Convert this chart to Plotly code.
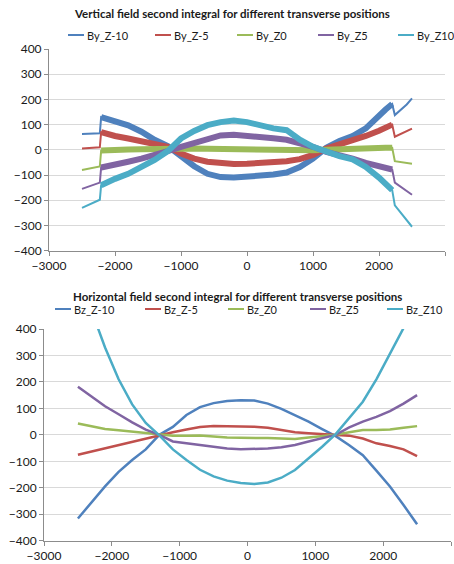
import plotly.graph_objects as go

W, H = 454, 564

# ---------------- data: vertical field (top) ----------------
x_top = [-2500, -2230, -2210, -2100, -2000, -1800, -1600, -1400, -1200, -1000, -800, -600,
         -400, -200, 0, 200, 400, 600, 800, 1000, 1200, 1400, 1600, 1800, 2000, 2100, 2200,
         2240, 2420, 2500]
by_zm10 = [63, 66, 130, 122, 110, 97, 72, 40, 15, -25, -65, -95,
           -108, -110, -107, -103, -98, -90, -68, -35, 8, 35, 55, 85, 140, 160, 182,
           138, 180, 204]
by_zm5 = [5, 10, 70, 65, 55, 45, 35, 25, 12, -15, -35, -47,
          -53, -56, -55, -52, -50, -45, -37, -20, 5, 20, 38, 55, 76, 88, 100,
          52, 75, 84]
by_z0 = [-80, -66, -3, -1, 0, 1, 2, 4, 5, 5, 5, 4,
         3, 2, 2, 0, -3, -4, -3, -2, 0, 3, 5, 7, 8, 8, 8,
         -45, -52, -55]
by_z5 = [-155, -130, -70, -65, -60, -47, -35, -22, -5, 12, 28, 45,
         57, 60, 57, 52, 46, 40, 28, 12, -8, -20, -35, -52, -64, -70, -78,
         -130, -165, -178]
by_z10 = [-230, -198, -140, -130, -115, -95, -70, -40, -5, 45, 75, 98,
          110, 116, 110, 95, 85, 78, 40, 12, -8, -25, -38, -68, -110, -135, -160,
          -220, -280, -305]

# ---------------- data: horizontal field (bottom) ----------------
x_bot = [-2500, -2300, -2100, -1900, -1700, -1500, -1300, -1100, -900, -700, -500, -300,
         -100, 100, 300, 500, 700, 900, 1100, 1300, 1500, 1700, 1900, 2100, 2300, 2500]
bz_zm10 = [-316, -255, -195, -140, -95, -55, 0, 30, 75, 105, 120, 128,
           131, 130, 118, 98, 75, 50, 22, -5, -39, -77, -135, -195, -265, -338]
bz_zm5 = [-75, -63, -50, -37, -25, -12, 0, 10, 20, 30, 33, 32,
          33, 31, 27, 18, 10, 6, 3, 0, -3, -14, -32, -42, -55, -80]
bz_z0 = [43, 32, 22, 17, 12, 6, 0, -3, -3, -2, -6, -10,
         -11, -11, -12, -14, -16, -10, -5, 0, 10, 18, 18, 20, 27, 33]
bz_z5 = [182, 145, 108, 78, 47, 20, 0, -25, -32, -38, -47, -52,
         -54, -54, -52, -47, -38, -25, -12, 0, 28, 50, 68, 90, 118, 150]
bz_z10 = [600, 470, 330, 210, 115, 45, -2, -55, -95, -132, -157, -173,
          -182, -186, -180, -162, -133, -90, -45, 3, 62, 125, 210, 305, 402, 500]

names_top = ["By_Z-10", "By_Z-5", "By_Z0", "By_Z5", "By_Z10"]
names_bot = ["Bz_Z-10", "Bz_Z-5", "Bz_Z0", "Bz_Z5", "Bz_Z10"]
title_top = "Vertical field second integral for different transverse positions"
title_bot = "Horizontal field second integral for different transverse positions"
x_ticks = [-3000, -2000, -1000, 0, 1000, 2000, 3000]
y_ticks = [-400, -300, -200, -100, 0, 100, 200, 300, 400]

colors = ["#4F81BD", "#C0504D", "#9BBB59", "#8064A2", "#4BACC6"]
FONT = "Lato"
TXT = "#1a1a1a"

fig = go.Figure()

series_top = [by_zm10, by_zm5, by_z0, by_z5, by_z10]
for name, ys, c in zip(names_top, series_top, colors):
    # thin full line
    fig.add_trace(go.Scatter(x=x_top, y=ys, mode="lines", name=name, showlegend=False,
                             line=dict(color=c, width=2), xaxis="x", yaxis="y"))
    # thick noisy band inside magnet region
    xi = [x for x in x_top if -2210 <= x <= 2200]
    yi = [y for x, y in zip(x_top, ys) if -2210 <= x <= 2200]
    fig.add_trace(go.Scatter(x=xi, y=yi, mode="lines", showlegend=False, hoverinfo="skip",
                             line=dict(color=c, width=6), xaxis="x", yaxis="y"))

series_bot = [bz_zm10, bz_zm5, bz_z0, bz_z5, bz_z10]
for name, ys, c in zip(names_bot, series_bot, colors):
    fig.add_trace(go.Scatter(x=x_bot, y=ys, mode="lines", name=name, showlegend=False,
                             line=dict(color=c, width=2.5), xaxis="x2", yaxis="y2"))

def px(x):
    return x / W

def py(y):
    return 1 - y / H

axis_common = dict(
    tickfont=dict(family=FONT, size=12, color=TXT),
    showline=True, linecolor="#8c8c8c", linewidth=1,
    ticks="outside", ticklen=4, tickcolor="#8c8c8c",
    zeroline=False, automargin=False,
)

fig.update_layout(
    width=W, height=H,
    margin=dict(l=0, r=0, t=0, b=0),
    paper_bgcolor="white", plot_bgcolor="white",
    showlegend=False,
    xaxis=dict(domain=[px(49), px(445)], range=[-3000, 3000], tickvals=x_ticks,
               showgrid=False, anchor="y", **axis_common),
    yaxis=dict(domain=[py(250.7), py(49)], range=[-400, 400], tickvals=y_ticks,
               showgrid=True, gridcolor="#d9d9d9", gridwidth=1, anchor="x", **axis_common),
    xaxis2=dict(domain=[px(44), px(451)], range=[-3000, 3000], tickvals=x_ticks,
                showgrid=False, anchor="y2", **axis_common),
    yaxis2=dict(domain=[py(540.7), py(329)], range=[-400, 400], tickvals=y_ticks,
                showgrid=True, gridcolor="#d9d9d9", gridwidth=1, anchor="x2", **axis_common),
)

annotations = []
shapes = []
annotations.append(dict(text="<b>" + title_top + "</b>", x=px(232), y=py(13), xref="paper", yref="paper",
                        xanchor="center", yanchor="middle",
                        showarrow=False, font=dict(family=FONT, size=11.5, color=TXT)))
annotations.append(dict(text="<b>" + title_bot + "</b>", x=px(238), y=py(296), xref="paper", yref="paper",
                        xanchor="center", yanchor="middle",
                        showarrow=False, font=dict(family=FONT, size=11.5, color=TXT)))

leg_top_x = [68, 155, 237, 318, 398]
leg_bot_x = [55, 145, 228, 310, 387]
for names, xs, ly in [(names_top, leg_top_x, 35), (names_bot, leg_bot_x, 309)]:
    for name, x0, c in zip(names, xs, colors):
        shapes.append(dict(type="line", xref="paper", yref="paper", x0=px(x0), x1=px(x0 + 16),
                           y0=py(ly), y1=py(ly), line=dict(color=c, width=2)))
        annotations.append(dict(text=name, x=px(x0 + 17), y=py(ly), xref="paper", yref="paper",
                                xanchor="left", yanchor="middle", showarrow=False,
                                font=dict(family=FONT, size=11, color=TXT)))

fig.update_layout(annotations=annotations, shapes=shapes)
fig.write_html("out.html")
